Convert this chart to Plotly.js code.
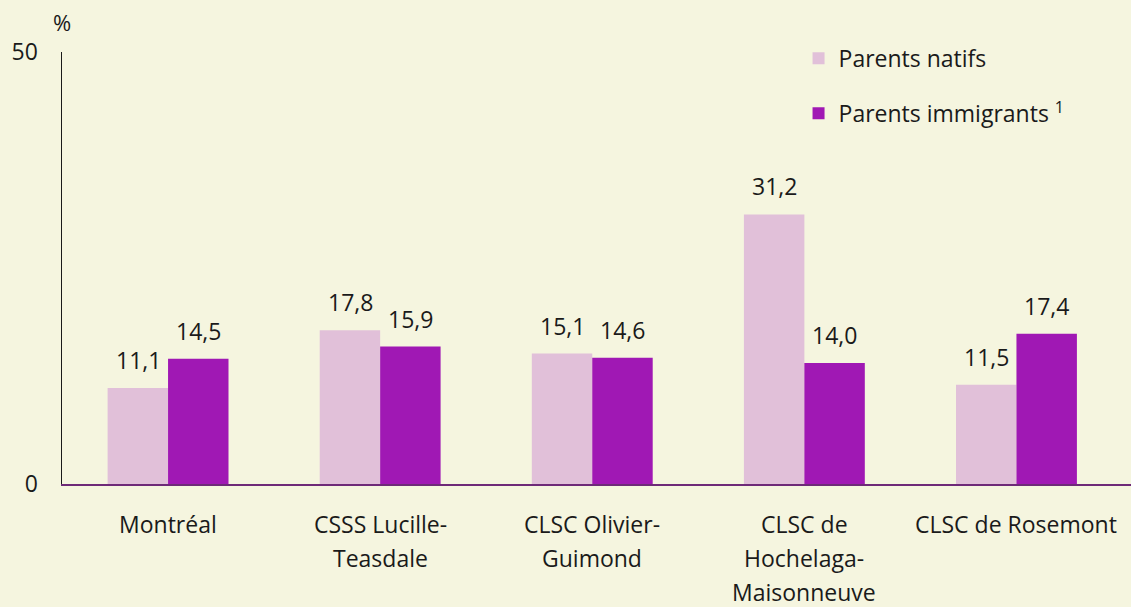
<!DOCTYPE html>
<html><head><meta charset="utf-8">
<script src="https://cdn.plot.ly/plotly-3.0.1.min.js"></script>
<style>html,body{margin:0;padding:0;background:#F5F5DF;}</style>
</head><body>
<div id="chart" style="width:1131px;height:607px;"></div>
<script>
const categories = ["Montréal", "CSSS Lucille-Teasdale", "CLSC Olivier-Guimond", "CLSC de Hochelaga-Maisonneuve", "CLSC de Rosemont"];
const categoryLines = [["Montréal"], ["CSSS Lucille-", "Teasdale"], ["CLSC Olivier-", "Guimond"], ["CLSC de", "Hochelaga-", "Maisonneuve"], ["CLSC de Rosemont"]];
const natifs = [11.1, 17.8, 15.1, 31.2, 11.5];
const immigrants = [14.5, 15.9, 14.6, 14.0, 17.4];
const seriesNames = ["Parents natifs", "Parents immigrants <sup>1</sup>"];
const yTicks = [0, 50];

const FONT = "Open Sans, sans-serif";
const TXT = "#1a1a1a";
const FS = 23;
const fmt = v => v.toFixed(1).replace('.', ',');

const traces = [
  {type:'bar', x:categories, y:natifs, name:seriesNames[0], marker:{color:'#E1C0D9'}, legendgroup:'a', hoverinfo:'none'},
  {type:'bar', x:categories, y:immigrants, name:seriesNames[1], marker:{color:'#A018B4'}, legendgroup:'b', hoverinfo:'none'}
];

const annotations = [];
[natifs, immigrants].forEach((arr, s) => {
  arr.forEach((v, i) => {
    annotations.push({x:categories[i], y:v, xref:'x', yref:'y', text:fmt(v), showarrow:false,
      xshift: s === 0 ? -30 : 30, yshift: 28, yanchor:'middle', font:{family:FONT, size:FS, color:TXT}});
  });
});
categoryLines.forEach((lines, i) => {
  lines.forEach((t, k) => {
    annotations.push({x:categories[i], y:0, xref:'x', yref:'y', text:t, showarrow:false, borderpad:0,
      yanchor:'middle', yshift:-40 - 34*k, font:{family:FONT, size:FS, color:TXT}});
  });
});
annotations.push({x:0, y:1, xref:'paper', yref:'paper', text:'%', showarrow:false, yshift:30, xanchor:'center', yanchor:'middle', font:{family:FONT, size:22, color:TXT}});

const layout = {
  width:1131, height:607,
  margin:{l:62, r:0, t:52, b:123},
  paper_bgcolor:'#F5F5DF', plot_bgcolor:'#F5F5DF',
  barmode:'group', bargap:0.43, bargroupgap:0,
  showlegend:true,
  legend:{x:0.689, y:1.035, xanchor:'left', yanchor:'top', traceorder:'grouped', tracegroupgap:22,
    font:{family:FONT, size:FS, color:TXT}, bgcolor:'rgba(0,0,0,0)', itemwidth:30},
  xaxis:{type:'category', range:[-0.5, 4.54], showticklabels:false, showgrid:false, zeroline:false,
    showline:true, linecolor:'#6E2A78', linewidth:2, ticks:''},
  yaxis:{range:[0, 50], tickvals:yTicks, ticktext:yTicks.map(String), showgrid:false, zeroline:false,
    showline:true, linecolor:'#1a1a1a', linewidth:1.5, ticks:'outside', ticklen:18, tickcolor:'rgba(0,0,0,0)',
    tickfont:{family:FONT, size:FS, color:TXT}},
  annotations:annotations
};
Plotly.newPlot('chart', traces, layout, {displayModeBar:false, staticPlot:true});
</script>
</body></html>
